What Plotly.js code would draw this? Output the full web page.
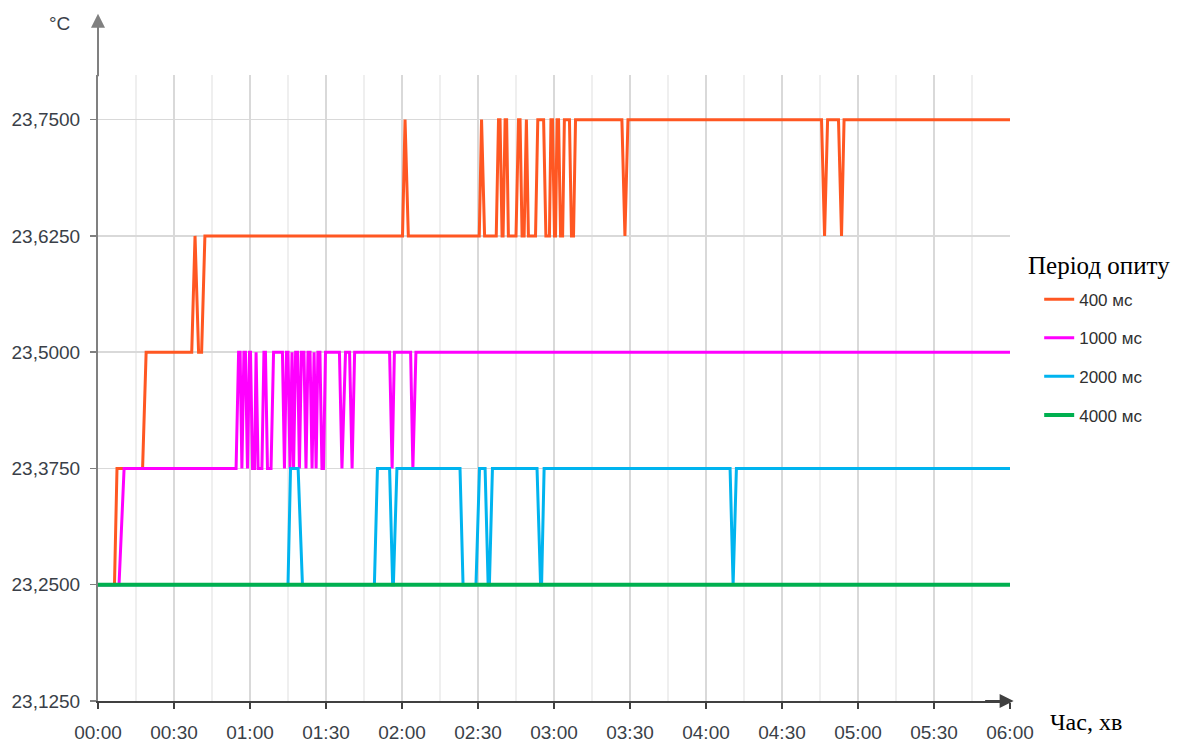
<!DOCTYPE html>
<html>
<head>
<meta charset="utf-8">
<script src="https://cdn.plot.ly/plotly-3.0.1.min.js"></script>
<style>html,body{margin:0;padding:0;background:#fff;}#chart{width:1186px;height:742px;}</style>
</head>
<body>
<div id="chart"></div>
<script>
// Time in minutes from start, temperature in °C
const seriesNames = ['400 мс', '1000 мс', '2000 мс', '4000 мс'];

const t400 = [0, 6.5, 7.5, 17.6, 19.0, 37.0, 38.3, 39.7, 40.9, 42.2, 120.2, 121.2, 122.5,
  150.5, 151.4, 152.6, 157.2, 158.1, 158.7, 159.5, 159.9, 160.7, 161.3, 162.0,
  165.0, 166.0, 166.6, 167.4, 168.2, 169.1, 169.9, 172.7, 173.6, 175.9, 176.8,
  178.2, 178.8, 179.4, 180.2, 180.6, 181.2, 181.8, 182.6, 183.4, 184.1, 186.1, 186.9,
  187.7, 188.5, 206.8, 208.0, 209.2, 285.6, 286.8, 288.0, 292.3, 293.5, 294.5, 360];
const v400 = [23.25, 23.25, 23.375, 23.375, 23.5, 23.5, 23.625, 23.5, 23.5, 23.625, 23.625, 23.75, 23.625,
  23.625, 23.75, 23.625, 23.625, 23.75, 23.75, 23.625, 23.625, 23.75, 23.75, 23.625,
  23.625, 23.75, 23.75, 23.625, 23.625, 23.75, 23.625, 23.625, 23.75, 23.75, 23.625,
  23.625, 23.75, 23.75, 23.625, 23.625, 23.75, 23.75, 23.625, 23.625, 23.75, 23.75, 23.625,
  23.625, 23.75, 23.75, 23.625, 23.75, 23.75, 23.625, 23.75, 23.75, 23.625, 23.75, 23.75];

const t1000 = [0, 8.3, 10.3, 54.5, 55.5, 56.1, 56.8, 57.6, 58.2, 59.0, 59.8, 60.2, 61.0, 61.8,
  62.4, 63.2, 64.7, 65.5, 66.1, 66.9, 68.3, 69.3, 72.8, 73.6, 74.4, 75.0, 75.8, 76.6,
  77.2, 78.0, 78.8, 79.5, 80.3, 81.3, 82.1, 82.9, 83.7, 84.5, 85.3, 86.1, 86.8, 87.6,
  88.4, 89.0, 89.8, 95.3, 96.3, 97.7, 99.3, 100.3, 101.3, 115.1, 116.1, 117.0, 123.4,
  124.3, 125.5, 360];
const v1000 = [23.25, 23.25, 23.375, 23.375, 23.5, 23.5, 23.375, 23.5, 23.5, 23.375, 23.5, 23.5, 23.375, 23.375,
  23.5, 23.375, 23.375, 23.5, 23.5, 23.375, 23.375, 23.5, 23.5, 23.375, 23.5, 23.5, 23.375, 23.5,
  23.375, 23.5, 23.5, 23.375, 23.5, 23.5, 23.375, 23.5, 23.5, 23.375, 23.5, 23.375, 23.5, 23.5,
  23.375, 23.375, 23.5, 23.5, 23.375, 23.5, 23.5, 23.375, 23.5, 23.5, 23.375, 23.5, 23.5,
  23.375, 23.5, 23.5];

const t2000 = [0, 75.0, 76.0, 79.0, 80.7, 109.1, 110.3, 115.1, 116.3, 116.6, 118.0, 142.9, 144.1,
  149.2, 150.6, 152.8, 154.0, 154.5, 155.7, 173.3, 174.7, 175.1, 176.1, 249.5, 250.7, 252.0, 360];
const v2000 = [23.25, 23.25, 23.375, 23.375, 23.25, 23.25, 23.375, 23.375, 23.25, 23.25, 23.375, 23.375, 23.25,
  23.25, 23.375, 23.375, 23.25, 23.25, 23.375, 23.375, 23.25, 23.25, 23.375, 23.375, 23.25, 23.375, 23.375];

const t4000 = [0, 360];
const v4000 = [23.25, 23.25];

const xTickVals = [0, 30, 60, 90, 120, 150, 180, 210, 240, 270, 300, 330, 360];
const xTickText = ['00:00', '00:30', '01:00', '01:30', '02:00', '02:30', '03:00', '03:30', '04:00', '04:30', '05:00', '05:30', '06:00'];
const xMinorVals = [15, 45, 75, 105, 135, 165, 195, 225, 255, 285, 315, 345];
const yTickVals = [23.125, 23.25, 23.375, 23.5, 23.625, 23.75];

const colors = ['#FF5722', '#FF00FF', '#00B4EF', '#00B050'];
const widths = [3, 3, 3, 4];
const xs = [t400, t1000, t2000, t4000];
const ys = [v400, v1000, v2000, v4000];

const traces = seriesNames.map((n, i) => ({
  x: xs[i], y: ys[i], name: n, type: 'scatter', mode: 'lines',
  line: {color: colors[i], width: widths[i]},
  legendgroup: 'g' + i, hoverinfo: 'skip'
}));

const tickFont = {family: 'Liberation Sans, Arial, sans-serif', size: 19, color: '#3a3f48'};

const layout = {
  width: 1186, height: 742,
  margin: {l: 98, r: 176, t: 75, b: 41, pad: 0},
  paper_bgcolor: '#fff', plot_bgcolor: '#fff',
  separators: ', ',
  showlegend: true,
  legend: {
    x: 1.032, xanchor: 'left', y: 0.67, yanchor: 'top',
    font: {family: 'Liberation Sans, Arial, sans-serif', size: 17, color: '#303030'},
    tracegroupgap: 13.5, bgcolor: 'rgba(0,0,0,0)'
  },
  xaxis: {
    range: [0, 360], tickmode: 'array', tickvals: xTickVals, ticktext: xTickText,
    showgrid: true, gridcolor: '#d9d9d9', gridwidth: 1.5,
    minor: {tickmode: 'array', tickvals: xMinorVals, showgrid: true, gridcolor: '#efefef', gridwidth: 1.5, ticks: ''},
    zeroline: false, showline: true, linecolor: '#404040', linewidth: 2,
    ticks: 'outside', ticklen: 6, tickwidth: 1.5, tickcolor: '#404040',
    tickfont: tickFont, ticklabelstandoff: 7, fixedrange: true
  },
  yaxis: {
    range: [23.125, 23.798], tickmode: 'array', tickvals: yTickVals, tickformat: '.4f',
    showgrid: true, gridcolor: '#d9d9d9', gridwidth: 1.5,
    zeroline: false, showline: true, linecolor: '#808080', linewidth: 2,
    ticks: 'outside', ticklen: 6, tickwidth: 1.5, tickcolor: '#808080',
    tickfont: tickFont, ticklabelstandoff: 6, fixedrange: true
  },
  annotations: [
    {x: 0, y: 1.098, xref: 'paper', yref: 'paper', text: '', showarrow: true,
     ax: 0, ay: 64, arrowhead: 2, arrowsize: 1.4, arrowwidth: 2, arrowcolor: '#808080', standoff: 0},
    {x: 1.004, y: 0, xref: 'paper', yref: 'paper', text: '', showarrow: true,
     ax: -30, ay: 0, arrowhead: 2, arrowsize: 1.4, arrowwidth: 2, arrowcolor: '#404040', standoff: 0},
    {x: -0.042, y: 1.083, xref: 'paper', yref: 'paper', text: '°C', showarrow: false,
     xanchor: 'center', yanchor: 'middle', font: {family: 'Liberation Sans, Arial, sans-serif', size: 19, color: '#3a3f48'}},
    {x: 1.083, y: -0.034, xref: 'paper', yref: 'paper', text: 'Час, хв', showarrow: false,
     xanchor: 'center', yanchor: 'middle', font: {family: 'Liberation Serif, Times New Roman, serif', size: 24, color: '#000'}},
    {x: 1.0175, y: 0.695, xref: 'paper', yref: 'paper', text: 'Період опиту', showarrow: false,
     xanchor: 'left', yanchor: 'middle', font: {family: 'Liberation Serif, Times New Roman, serif', size: 25, color: '#000'}}
  ]
};

Plotly.newPlot('chart', traces, layout, {displayModeBar: false, staticPlot: true});
</script>
</body>
</html>
